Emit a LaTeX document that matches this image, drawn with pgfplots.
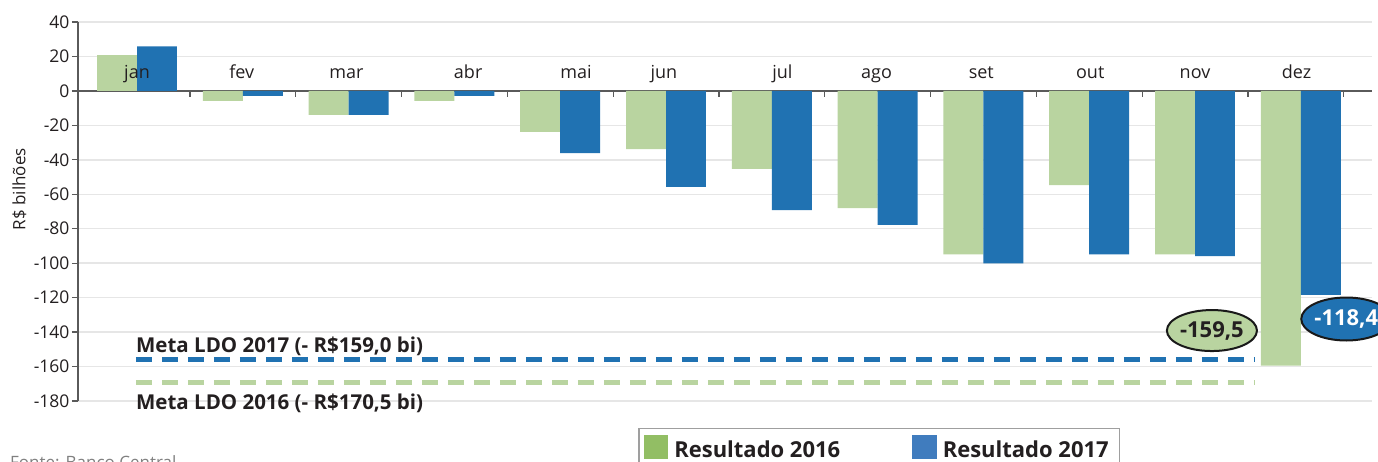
\documentclass[border=0pt]{standalone}
\usepackage{pgfplots}
\pgfplotsset{compat=1.18}
\usepackage{fontspec}
\setmainfont{Open Sans}
\usetikzlibrary{shapes.geometric}
\definecolor{barGreen}{RGB}{185,212,160}
\definecolor{barBlue}{RGB}{32,114,178}
\definecolor{legGreen}{RGB}{146,190,100}
\definecolor{legBlue}{RGB}{64,124,190}
\definecolor{gridgray}{RGB}{230,230,230}
\definecolor{axgray}{RGB}{90,90,90}
\definecolor{txt}{RGB}{35,31,32}
\begin{document}
\begin{tikzpicture}
\path[use as bounding box] (-78pt,-60pt) rectangle (1300pt,401pt);
\clip (-78pt,-60pt) rectangle (1300pt,401pt);
\begin{axis}[
  at={(0pt,0pt)}, anchor=south west,
  scale only axis, width=1294pt, height=379pt,
  xmin=-0.5577, xmax=11.673, ymin=-180, ymax=40,
  clip=false,
  axis y line*=left, axis x line*=middle,
  axis line style={axgray, line width=1.2pt},
  xtick={0.5,1.5,2.5,3.5,4.5,5.5,6.5,7.5,8.5,9.5,10.5,11.4}, xticklabels={},
  ytick={-180,-160,-140,-120,-100,-80,-60,-40,-20,0,20,40},
  tick style={axgray, line width=1.2pt},
  xtick align=outside, ytick align=outside,
  major tick length=6pt,
  ymajorgrids, grid style={gridgray, line width=1.5pt},
  yticklabel style={font=\fontsize{17.5}{20}\selectfont, text=txt, xshift=1pt},
  /pgf/number format/assume math mode=true,
  ylabel={R\$ bilhões},
  ylabel style={at={(axis description cs:-0.0452,0.559)}, anchor=center, font=\fontsize{17}{20}\selectfont, text=txt},
  legend style={at={(axis description cs:0.4328,-0.0712)}, anchor=north west,
    draw=gray!75, line width=1.5pt, fill=white, inner xsep=5pt, inner ysep=6pt,
    font=\fontsize{22}{26}\selectfont\bfseries, text=txt,
    nodes={inner xsep=6pt},
    /tikz/every even column/.append style={column sep=66pt}},
  legend columns=2,
]
% bars 2016
\addplot[forget plot, ybar, bar width=0.378, bar shift=-0.189, fill=barGreen, draw=none]
  coordinates {(0,20.7) (1,-5.8) (2,-13.9) (3,-5.8) (4,-23.8) (5,-33.8) (6,-45.2) (7,-68.0) (8,-94.9) (9,-54.7) (10,-94.9) (11,-159.5)};
% bars 2017
\addplot[forget plot, ybar, bar width=0.378, bar shift=0.189, fill=barBlue, draw=none]
  coordinates {(0,25.9) (1,-2.9) (2,-13.9) (3,-2.9) (4,-36.1) (5,-55.7) (6,-69.2) (7,-77.7) (8,-100.1) (9,-94.9) (10,-95.9) (11,-118.4)};
% meta lines
\addplot[forget plot, barBlue, line width=5pt, dash pattern=on 16pt off 10pt] coordinates {(-0.01,-156) (10.56,-156)};
\addplot[forget plot, barGreen, line width=5pt, dash pattern=on 16pt off 10pt] coordinates {(-0.01,-169.3) (10.56,-169.3)};
% legend
\addlegendimage{legend image code/.code={\fill[legGreen] (0pt,-9pt) rectangle (23pt,14pt);}}
\addlegendentry{Resultado 2016}
\addlegendimage{legend image code/.code={\fill[legBlue] (0pt,-9pt) rectangle (23pt,14pt);}}
\addlegendentry{Resultado 2017}
% month labels
\begin{scope}[every node/.style={anchor=base, font=\fontsize{18}{21}\selectfont, text=txt, inner sep=0pt}]
\node at (axis cs:0,7.4) {jan};
\node at (axis cs:0.99,7.4) {fev};
\node at (axis cs:1.98,7.4) {mar};
\node at (axis cs:3.13,7.4) {abr};
\node at (axis cs:4.15,7.4) {mai};
\node at (axis cs:4.98,7.4) {jun};
\node at (axis cs:6.10,7.4) {jul};
\node at (axis cs:6.99,7.4) {ago};
\node at (axis cs:7.98,7.4) {set};
\node at (axis cs:9.01,7.4) {out};
\node at (axis cs:10.0,7.4) {nov};
\node at (axis cs:10.96,7.4) {dez};
\end{scope}
% meta text
\node[anchor=base west, inner sep=0pt, font=\fontsize{20.5}{24}\selectfont\bfseries, text=txt] at (axis cs:-0.01,-151.7) {Meta LDO 2017 (- R\$159,0 bi)};
\node[anchor=base west, inner sep=0pt, font=\fontsize{20.5}{24}\selectfont\bfseries, text=txt] at (axis cs:-0.01,-185.2) {Meta LDO 2016 (- R\$170,5 bi)};
% callouts
\node[ellipse, draw=black!90, line width=2pt, fill=barGreen, minimum width=78pt, minimum height=41pt, inner sep=0pt, font=\fontsize{22}{24}\selectfont\bfseries, text=txt] at (axis cs:10.16,-139.1) {-159,5};
\node[ellipse, draw=black!90, line width=2pt, fill=barBlue, minimum width=78pt, minimum height=43pt, inner sep=0pt, font=\fontsize{22}{24}\selectfont\bfseries, text=white] at (axis cs:11.43,-132.4) {-118,4};
\end{axis}
\node[anchor=base west, inner sep=0pt, font=\fontsize{17}{20}\selectfont, text=gray] at (-68pt,-67pt) {Fonte: Banco Central};
\end{tikzpicture}
\end{document}
